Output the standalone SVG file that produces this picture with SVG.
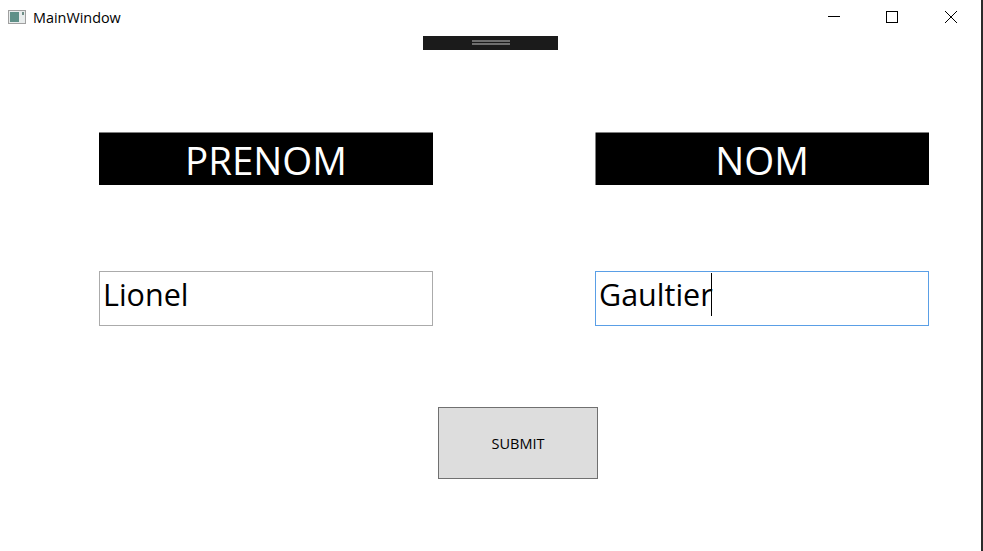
<svg xmlns="http://www.w3.org/2000/svg" width="983" height="551" viewBox="0 0 983 551">
<style>
text{font-family:"Open Sans","Noto Sans","Liberation Sans",sans-serif;fill:#000}
.hdr{fill:#000}
.hdrt{font-size:38.5px;fill:#fff;text-anchor:middle}
.inp{fill:#fff;stroke:#ababab;stroke-width:1}
.val{font-size:30.500px}
.ic{fill:none;stroke:#000;stroke-width:1}
</style>
<rect width="983" height="551" fill="#fff"/>
<rect x="981" y="0" width="2" height="551" fill="#2b2b2b"/>
<g id="titlebar">
<rect x="8.500" y="10.500" width="17" height="13" fill="#e8ecec" stroke="#a0a0a0"/>
<rect x="10" y="12" width="9" height="10" fill="#5f9088"/>
<rect x="22" y="12" width="2" height="3" fill="#6f8f88"/>
<text x="33" y="23" font-size="14.400">MainWindow</text>
<path class="ic" d="M828 16.500H840"/>
<rect class="ic" x="886.500" y="11.500" width="11" height="11"/>
<path class="ic" d="M945 11L957 23M957 11L945 23"/>
</g>
<g id="toolbar">
<rect x="423" y="36" width="135" height="14" fill="#1b1b1b"/>
<rect x="472" y="40" width="38" height="2" fill="#6e6e6e"/>
<rect x="472" y="43" width="38" height="2" fill="#6e6e6e"/>
</g>
<g id="label-prenom">
<rect class="hdr" x="99" y="132.500" width="334" height="52.500"/>
<text class="hdrt" x="266" y="175">PRENOM</text>
</g>
<g id="label-nom">
<rect class="hdr" x="595.500" y="132.500" width="333.500" height="52.500"/>
<text class="hdrt" x="762" y="175">NOM</text>
</g>
<g id="input-prenom">
<rect class="inp" x="99.500" y="271.500" width="333" height="54"/>
<text class="val" x="103" y="306">Lionel</text>
</g>
<g id="input-nom">
<rect class="inp" x="595.500" y="271.500" width="333" height="54" style="stroke:#5a9fe6"/>
<text class="val" x="599" y="306">Gaultier</text>
<rect x="711" y="273" width="1" height="43" fill="#000"/>
</g>
<g id="submit">
<rect x="438.500" y="407.500" width="159" height="71" fill="#dddddd" stroke="#707070"/>
<text x="518" y="449" font-size="14.500" text-anchor="middle">SUBMIT</text>
</g>
<g id="connectors"></g>
</svg>
